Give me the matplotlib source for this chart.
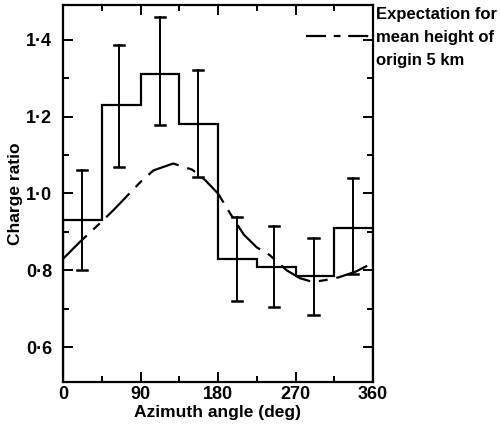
import numpy as np
import matplotlib
matplotlib.use("Agg")
import matplotlib.pyplot as plt
from matplotlib.ticker import MultipleLocator, FuncFormatter

plt.rcParams['font.family'] = ['Liberation Sans', 'DejaVu Sans']
plt.rcParams['font.weight'] = 'bold'
plt.rcParams['axes.labelweight'] = 'bold'

# measured charge ratio, 45 deg azimuth bins
bin_edges = [0, 45, 90, 135, 180, 225, 270, 315, 360]
ratio = [0.93, 1.23, 1.31, 1.18, 0.83, 0.81, 0.785, 0.91]
bar_x = [22, 65, 113, 157, 202, 245, 291, 337]
err_hi = [1.06, 1.385, 1.46, 1.32, 0.94, 0.915, 0.885, 1.04]
err_lo = [0.80, 1.07, 1.177, 1.044, 0.72, 0.705, 0.683, 0.79]

# expectation curve, mean height of origin 5 km
curve_az = [0, 20, 45, 60, 90, 105, 128, 150, 165, 180, 195, 210, 225, 240,
            260, 275, 290, 305, 320, 340, 360]
curve_val = [0.83, 0.875, 0.927, 0.96, 1.03, 1.06, 1.078, 1.062, 1.035, 1.0,
             0.945, 0.893, 0.86, 0.84, 0.80, 0.78, 0.77, 0.775, 0.782, 0.797, 0.82]

fig = plt.figure(figsize=(5, 4.28), dpi=100)
ax = fig.add_axes([63 / 500, 46 / 428, 310 / 500, 377 / 428])

ax.stairs(ratio, bin_edges, color="black", lw=1.6)
for x, lo, hi in zip(bar_x, err_lo, err_hi):
    ax.plot([x, x], [lo, hi], color="black", lw=1.4)
    ax.plot([x - 6, x + 6], [hi, hi], color="black", lw=1.8)
    ax.plot([x - 6, x + 6], [lo, lo], color="black", lw=1.8)

ax.plot(curve_az, curve_val, color="black", lw=1.6, dashes=(15, 4, 4, 4))

# legend sample inside the frame, text outside
ax.plot([282, 357], [1.41, 1.41], color="black", lw=1.6, dashes=(9, 3.5, 3, 3.5))
fig.text(376 / 500, 1 - 7 / 428, "Expectation for\nmean height of\norigin 5 km",
         ha="left", va="top", fontsize=12, linespacing=1.65)

ax.set_xlim(0, 360)
ax.set_ylim(0.51, 1.49)
ax.xaxis.set_major_locator(MultipleLocator(90))
ax.xaxis.set_minor_locator(MultipleLocator(45))
ax.yaxis.set_major_locator(MultipleLocator(0.2))
ax.yaxis.set_minor_locator(MultipleLocator(0.1))
ax.yaxis.set_major_formatter(FuncFormatter(lambda v, p: f"{v:.1f}".replace(".", "\u00b7")))
ax.tick_params(which="both", direction="in", top=True, right=True, labelsize=13, width=1.4)
ax.tick_params(which="major", length=7)
ax.tick_params(axis="y", pad=8)
ax.tick_params(axis="x", pad=3)
ax.tick_params(which="minor", length=4)
for s in ax.spines.values():
    s.set_linewidth(1.6)

ax.set_xlabel("Azimuth angle (deg)", fontsize=12.5, labelpad=1)
ax.set_ylabel("Charge ratio", fontsize=12.5)
ax.yaxis.set_label_coords(-0.128, 0.5)

fig.savefig("out.png", dpi=100)
